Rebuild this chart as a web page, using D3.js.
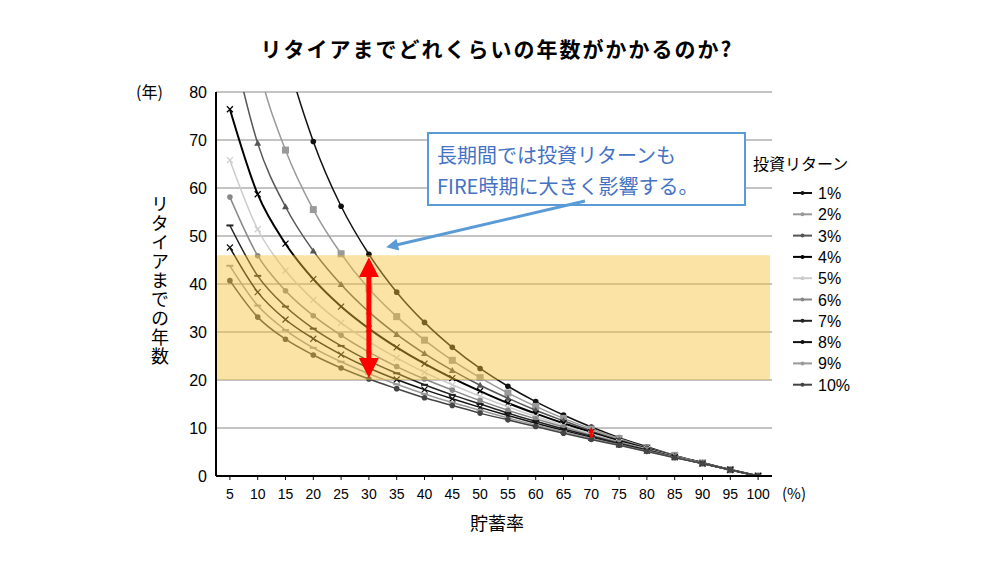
<!DOCTYPE html>
<html><head><meta charset="utf-8">
<script src="https://cdn.jsdelivr.net/npm/d3@7"></script>
<style>body{margin:0;background:#fff}text{font-family:"Noto Sans CJK JP","Liberation Sans",sans-serif}text.num{font-family:"Liberation Sans",Arial,sans-serif}</style>
</head><body><svg id="c" width="1000" height="563"></svg>
<script>
const savingsRates=[5,10,15,20,25,30,35,40,45,50,55,60,65,70,75,80,85,90,95,100];
const yTicks=[0,10,20,30,40,50,60,70,80];
const seriesNames=["1%","2%","3%","4%","5%","6%","7%","8%","9%","10%"];
const r1=[175.8,118.5,88.7,69.7,56.2,46.2,38.3,32.0,26.8,22.4,18.7,15.5,12.7,10.2,8.0,6.1,4.3,2.8,1.3,0];
const r2=[118.7,86.1,67.9,55.5,46.3,39.0,33.2,28.3,24.1,20.5,17.3,14.5,12.0,9.8,7.8,5.9,4.3,2.7,1.3,0];
const r3=[92.2,69.3,56.1,46.9,39.9,34.2,29.5,25.5,22.0,18.9,16.2,13.7,11.5,9.4,7.5,5.8,4.2,2.7,1.3,0];
const r4=[76.4,58.7,48.4,41.0,35.3,30.7,26.8,23.4,20.4,17.7,15.2,13.0,11.0,9.1,7.3,5.7,4.1,2.7,1.3,0];
const r5=[65.8,51.4,42.8,36.7,31.9,28.0,24.6,21.6,19.0,16.6,14.4,12.4,10.5,8.8,7.1,5.6,4.1,2.7,1.3,0];
const r6=[58.1,45.9,38.6,33.4,29.3,25.8,22.8,20.2,17.9,15.7,13.7,11.9,10.2,8.5,7.0,5.5,4.0,2.6,1.3,0];
const r7=[52.2,41.7,35.3,30.7,27.1,24.0,21.4,19.0,16.9,15.0,13.1,11.4,9.8,8.3,6.8,5.4,4.0,2.6,1.3,0];
const r8=[47.6,38.3,32.6,28.6,25.3,22.5,20.1,18.0,16.1,14.3,12.6,11.0,9.5,8.0,6.6,5.3,3.9,2.6,1.3,0];
const r9=[43.8,35.5,30.4,26.7,23.8,21.3,19.1,17.1,15.3,13.7,12.1,10.6,9.2,7.8,6.5,5.2,3.9,2.6,1.3,0];
const r10=[40.7,33.1,28.5,25.2,22.5,20.2,18.2,16.3,14.7,13.1,11.7,10.3,8.9,7.6,6.4,5.1,3.8,2.6,1.3,0];
const seriesValues=[r1,r2,r3,r4,r5,r6,r7,r8,r9,r10];
const colors=["#111","#999","#555","#000","#ccc","#888","#222","#111","#999","#444"];
const markers=["circle","square","triangle","cross","cross","circle","dash","cross","dash","circle"];
const bandRange=[20,46];

const svg=d3.select("#c");
const x=d3.scaleLinear().domain([2.5,102.5]).range([216,772]);
const y=d3.scaleLinear().domain([0,80]).range([476,92]);

svg.append("text").attr("x",497).attr("y",57).attr("text-anchor","middle").attr("font-size",21).attr("font-weight","bold").attr("letter-spacing",2).text("リタイアまでどれくらいの年数がかかるのか?");

const defs=svg.append("defs");
defs.append("clipPath").attr("id","clip").append("rect").attr("x",216).attr("y",y(80)).attr("width",556).attr("height",y(0)-y(80));

svg.append("g").selectAll("line").data(yTicks.filter(d=>d>0)).join("line")
 .attr("x1",216).attr("x2",772).attr("y1",d=>y(d)).attr("y2",d=>y(d)).attr("stroke","#888").attr("stroke-width",1);

const line=d3.line().x((d,i)=>x(savingsRates[i])).y(d=>y(d)).curve(d3.curveMonotoneX);
const g=svg.append("g").attr("clip-path","url(#clip)");
function drawMarker(sel,type,c){
  sel.each(function(d,i){
    const s=d3.select(this), cx=x(savingsRates[i]), cy=y(d);
    if(type==="circle") s.append("circle").attr("cx",cx).attr("cy",cy).attr("r",2.8).attr("fill",c);
    else if(type==="square") s.append("rect").attr("x",cx-3.5).attr("y",cy-3.5).attr("width",7).attr("height",7).attr("fill",c);
    else if(type==="triangle") s.append("path").attr("d",`M${cx},${cy-3.5}L${cx+3.5},${cy+2.5}L${cx-3.5},${cy+2.5}Z`).attr("fill",c);
    else if(type==="cross") s.append("path").attr("d",`M${cx-3},${cy-3}L${cx+3},${cy+3}M${cx-3},${cy+3}L${cx+3},${cy-3}`).attr("stroke",c).attr("stroke-width",1.2);
    else s.append("path").attr("d",`M${cx-3.5},${cy}L${cx+3.5},${cy}`).attr("stroke",c).attr("stroke-width",2);
  });
}
seriesValues.forEach((vals,k)=>{
  g.append("path").datum(vals).attr("d",line).attr("fill","none").attr("stroke",colors[k]).attr("stroke-width",k===3?2:1.5);
  const mg=g.append("g");
  drawMarker(mg.selectAll("g").data(vals).join("g"),markers[k],colors[k]);
});

svg.append("rect").attr("x",216).attr("width",554).attr("y",y(bandRange[1])).attr("height",y(bandRange[0])-y(bandRange[1]))
 .attr("fill","#f5c037").attr("opacity",0.45);

svg.append("line").attr("x1",216).attr("x2",216).attr("y1",y(80)).attr("y2",y(0)).attr("stroke","#000").attr("stroke-width",2);
svg.append("line").attr("x1",216).attr("x2",772).attr("y1",y(0)).attr("y2",y(0)).attr("stroke","#000").attr("stroke-width",2);
svg.append("g").selectAll("line").data(savingsRates).join("line").attr("x1",d=>x(d)).attr("x2",d=>x(d)).attr("y1",y(0)).attr("y2",y(0)+4).attr("stroke","#000");
svg.append("g").selectAll("text").data(savingsRates).join("text").attr("class","num").attr("x",d=>x(d)).attr("y",499).attr("text-anchor","middle").attr("font-size",14).text(d=>d);
svg.append("g").selectAll("text").data(yTicks).join("text").attr("class","num").attr("x",207).attr("y",d=>y(d)+6).attr("text-anchor","end").attr("font-size",16).text(d=>d);
svg.append("text").attr("x",136).attr("y",98).attr("font-size",16).text("(年)");
svg.append("text").attr("x",782).attr("y",499).attr("font-size",15).text("(%)");
svg.append("text").attr("x",497).attr("y",530).attr("text-anchor","middle").attr("font-size",18).text("貯蓄率");
svg.append("text").attr("x",160).attr("y",195).attr("font-size",18).attr("writing-mode","vertical-rl").attr("letter-spacing",1).text("リタイアまでの年数");

defs.append("marker").attr("id","rh").attr("viewBox","0 0 10 10").attr("refX",5).attr("refY",5).attr("markerWidth",4).attr("markerHeight",4).attr("orient","auto-start-reverse")
 .append("path").attr("d","M0,0L10,5L0,10Z").attr("fill","#f00");
svg.append("line").attr("x1",x(30)).attr("x2",x(30)).attr("y1",y(46)+12).attr("y2",y(20)-12).attr("stroke","#f00").attr("stroke-width",5)
 .attr("marker-start","url(#rh)").attr("marker-end","url(#rh)");
defs.append("marker").attr("id","rh2").attr("viewBox","0 0 10 10").attr("refX",5).attr("refY",5).attr("markerWidth",3).attr("markerHeight",3).attr("orient","auto-start-reverse")
 .append("path").attr("d","M0,0L10,5L0,10Z").attr("fill","#f00");
svg.append("line").attr("x1",x(70)).attr("x2",x(70)).attr("y1",y(10.2)+3).attr("y2",y(7.6)-3).attr("stroke","#f00").attr("stroke-width",2)
 .attr("marker-start","url(#rh2)").attr("marker-end","url(#rh2)");

svg.append("rect").attr("x",428).attr("y",133).attr("width",317).attr("height",72).attr("fill","#fff").attr("stroke","#5b9bd5").attr("stroke-width",2);
svg.append("text").attr("x",437).attr("y",163).attr("font-size",20).attr("fill","#4472c4").text("長期間では投資リターンも");
svg.append("text").attr("x",437).attr("y",194).attr("font-size",20).attr("fill","#4472c4").text("FIRE時期に大きく影響する。");
defs.append("marker").attr("id","bh").attr("viewBox","0 0 10 10").attr("refX",5).attr("refY",5).attr("markerWidth",5).attr("markerHeight",4).attr("orient","auto")
 .append("path").attr("d","M0,0L10,5L0,10Z").attr("fill","#5b9bd5");
svg.append("line").attr("x1",585).attr("y1",201).attr("x2",392).attr("y2",246).attr("stroke","#5b9bd5").attr("stroke-width",3).attr("marker-end","url(#bh)");

svg.append("text").attr("x",753).attr("y",170).attr("font-size",16).text("投資リターン");
const lg=svg.append("g").selectAll("g").data(seriesNames).join("g").attr("transform",(d,i)=>`translate(0,${193+i*21.3})`);
lg.append("line").attr("x1",793).attr("x2",812).attr("stroke",(d,i)=>colors[i]).attr("stroke-width",2);
lg.append("circle").attr("cx",802.5).attr("r",2).attr("fill",(d,i)=>colors[i]);
lg.append("text").attr("class","num").attr("x",818).attr("y",6).attr("font-size",16).text(d=>d);
</script></body></html>
